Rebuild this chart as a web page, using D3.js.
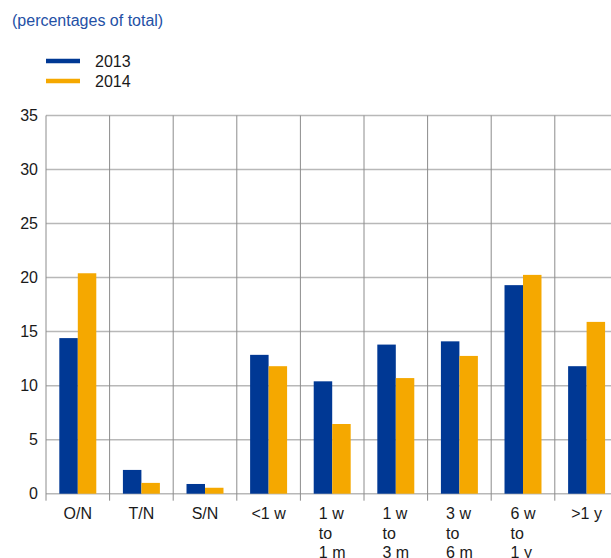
<!DOCTYPE html>
<html>
<head>
<meta charset="utf-8">
<script src="https://cdn.jsdelivr.net/npm/d3@7"></script>
<style>
  body { margin: 0; background: #fff; }
  svg { font-family: "Liberation Sans", Arial, sans-serif; }
</style>
</head>
<body>
<svg width="611" height="558"></svg>
<script>
// data
var categories = [["O/N"], ["T/N"], ["S/N"], ["<1 w"], ["1 w", "to", "1 m"],
  ["1 w", "to", "3 m"], ["3 w", "to", "6 m"], ["6 w", "to", "1 y"], [">1 y"]];
var series = ["2013", "2014"];
var values2013 = [14.4, 2.2, 0.9, 12.85, 10.4, 13.8, 14.1, 19.3, 11.8];
var values2014 = [20.4, 1.0, 0.55, 11.8, 6.45, 10.7, 12.75, 20.25, 15.9];
var yTicks = [0, 5, 10, 15, 20, 25, 30, 35];

var colors = {"2013": "#003894", "2014": "#f5a800"};

var svg = d3.select("svg");

var plot = {l: 46, t: 115.5, b: 493.7, band: 63.6};
var plotRight = plot.l + plot.band * categories.length;

var x0 = d3.scaleBand()
  .domain(d3.range(categories.length))
  .range([plot.l, plotRight])
  .padding(0);

var x1 = d3.scaleBand()
  .domain(series)
  .range([0, x0.bandwidth()])
  .paddingInner(0)
  .paddingOuter(0.72);

var y = d3.scaleLinear()
  .domain([0, 35])
  .range([plot.b, plot.t]);

// horizontal grid
svg.append("g")
  .selectAll("line")
  .data(yTicks)
  .enter()
  .append("line")
  .attr("x1", plot.l)
  .attr("x2", plotRight)
  .attr("y1", d => y(d))
  .attr("y2", d => y(d))
  .style("stroke", "#b8b8b8")
  .style("stroke-width", 1.5);

// vertical grid + ticks below axis
svg.append("g")
  .selectAll("line")
  .data(d3.range(categories.length + 1))
  .enter()
  .append("line")
  .attr("x1", d => plot.l + d * x0.step())
  .attr("x2", d => plot.l + d * x0.step())
  .attr("y1", plot.t)
  .attr("y2", plot.b + 7)
  .style("stroke", "#8c8c8c")
  .style("stroke-width", 1);

// y labels
svg.append("g")
  .selectAll("text")
  .data(yTicks)
  .enter()
  .append("text")
  .attr("x", 38)
  .attr("y", d => y(d))
  .attr("dy", "0.35em")
  .attr("text-anchor", "end")
  .style("font-size", "16px")
  .style("fill", "#1a1a1a")
  .text(d => d);

// bars
var rows = categories.map(function(c, i) {
  return {i: i, vals: [{s: "2013", v: values2013[i]}, {s: "2014", v: values2014[i]}]};
});

var groups = svg.append("g")
  .selectAll("g")
  .data(rows)
  .enter()
  .append("g")
  .attr("transform", d => "translate(" + x0(d.i) + ",0)");

groups.selectAll("rect")
  .data(d => d.vals)
  .enter()
  .append("rect")
  .attr("x", d => x1(d.s))
  .attr("width", x1.bandwidth())
  .attr("y", d => y(d.v))
  .attr("height", d => y(0) - y(d.v))
  .style("fill", d => colors[d.s]);

// x labels, lines left-aligned in a centred block
categories.forEach(function(lines, i) {
  var t = svg.append("text")
    .style("font-size", "16px")
    .style("fill", "#1a1a1a");
  lines.forEach(function(line, k) {
    t.append("tspan")
      .attr("y", 519 + k * 19.5)
      .text(line);
  });
  var w = 0;
  t.selectAll("tspan").each(function() {
    w = Math.max(w, this.getComputedTextLength());
  });
  var left = x0(i) + x0.bandwidth() / 2 - w / 2;
  t.selectAll("tspan").attr("x", left);
});

// title
svg.append("text")
  .attr("x", 12)
  .attr("y", 26)
  .style("font-size", "16px")
  .style("fill", "#2450a5")
  .text("(percentages of total)");

// legend
var legend = svg.append("g")
  .selectAll("g")
  .data(series)
  .enter()
  .append("g")
  .attr("transform", (d, i) => "translate(0," + (61 + i * 20) + ")");

legend.append("line")
  .attr("x1", 46)
  .attr("x2", 80)
  .style("stroke", d => colors[d])
  .style("stroke-width", 4.5);

legend.append("text")
  .attr("x", 95)
  .attr("y", 5.5)
  .style("font-size", "16px")
  .style("fill", "#1a1a1a")
  .text(d => d);
</script>
</body>
</html>
